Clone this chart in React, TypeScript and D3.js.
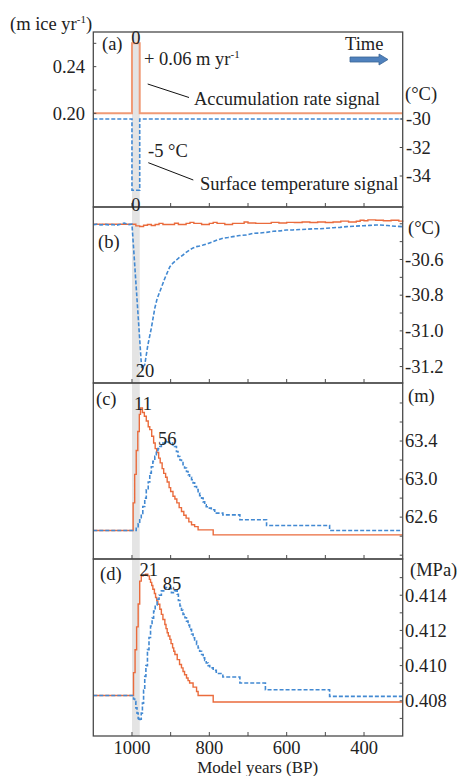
import React from 'react';
import * as d3 from 'd3';

// ---------- shared x axis ----------
const xDomain = [1100, 300];
const xTickYears = [1000, 900, 800, 700, 600, 500, 400];
const xLabelYears = [1000, 800, 600, 400];
const bandYears = [1000, 980];

// ---------- panel (a): imposed signals ----------
const aYears = [1100, 1000, 980, 300];
const aAccum = [0.2, 0.26, 0.2, 0.2];
const aTemp = [-30, -35, -30, -30];
const aLeftTicks = [0.2, 0.22, 0.24, 0.26];
const aLeftLabels = ['0.20', '0.24'];
const aRightTicks = [-30, -32, -34];

// ---------- panel (b): temperature (°C) ----------
const bBlueYears = [1100, 1090, 1080, 1070, 1060, 1050, 1040, 1030, 1020, 1015, 1010, 1000, 975, 967, 959, 950, 941, 935, 928, 921, 915, 908, 902, 894, 885, 877, 868, 860, 851, 842, 833, 825, 816, 803, 790, 778, 765, 752, 739, 722, 704, 687, 670, 652, 635, 618, 601, 583, 566, 549, 532, 514, 497, 480, 462, 445, 428, 411, 402, 385, 368, 359, 340, 320, 300];
const bBlueValues = [-30.405, -30.402, -30.407, -30.403, -30.406, -30.404, -30.408, -30.403, -30.396, -30.4, -30.405, -30.402, -31.21, -31.19, -31.08, -30.985, -30.873, -30.82, -30.78, -30.74, -30.705, -30.67, -30.64, -30.62, -30.603, -30.588, -30.575, -30.56, -30.547, -30.535, -30.528, -30.524, -30.519, -30.51, -30.5, -30.49, -30.481, -30.477, -30.472, -30.466, -30.463, -30.453, -30.452, -30.448, -30.442, -30.44, -30.435, -30.434, -30.432, -30.431, -30.428, -30.428, -30.425, -30.422, -30.42, -30.416, -30.414, -30.412, -30.411, -30.409, -30.407, -30.407, -30.41, -30.414, -30.416];
const bOrangeYears = [1100, 1000, 990, 980, 970, 960, 950, 940, 930, 920, 900, 890, 880, 860, 850, 840, 820, 800, 790, 780, 760, 740, 720, 710, 700, 680, 660, 640, 620, 600, 580, 560, 540, 520, 500, 480, 460, 440, 420, 410, 400, 390, 370, 350, 330, 310, 300];
const bOrangeValues = [-30.403, -30.403, -30.412, -30.415, -30.408, -30.404, -30.41, -30.404, -30.398, -30.404, -30.404, -30.397, -30.404, -30.398, -30.392, -30.398, -30.404, -30.398, -30.392, -30.398, -30.404, -30.398, -30.398, -30.39, -30.396, -30.398, -30.398, -30.392, -30.396, -30.392, -30.393, -30.39, -30.393, -30.39, -30.393, -30.39, -30.385, -30.39, -30.386, -30.38, -30.383, -30.378, -30.38, -30.383, -30.38, -30.385, -30.388];
const bTicks = [-31.2, -31.1, -31.0, -30.9, -30.8, -30.7, -30.6, -30.5, -30.4];
const bLabels = ['-30.6', '-30.8', '-31.0', '-31.2'];

// ---------- panel (c): depth (m) ----------
const cOrangeYears = [1100, 1000, 997, 993, 989, 985, 981, 978, 973, 968, 963, 958, 954, 949, 944, 940, 936, 931, 927, 922, 918, 913, 909, 904, 900, 894, 889, 884, 878, 872, 866, 860, 853, 846, 838, 829, 790, 300];
const cOrangeValues = [62.459, 62.459, 62.75, 63.05, 63.3, 63.5, 63.68, 63.748, 63.7, 63.66, 63.61, 63.55, 63.52, 63.45, 63.38, 63.32, 63.28, 63.22, 63.17, 63.11, 63.06, 63.02, 62.97, 62.91, 62.87, 62.82, 62.79, 62.75, 62.7, 62.66, 62.62, 62.59, 62.55, 62.52, 62.5, 62.466, 62.414, 62.414];
const cBlueYears = [1100, 993, 989, 984, 980, 976, 972, 967, 963, 958, 954, 950, 946, 941, 937, 933, 928, 924, 920, 915, 910, 905, 901, 895, 890, 885, 881, 876, 872, 868, 864, 859, 855, 851, 846, 842, 838, 833, 829, 825, 820, 816, 812, 808, 803, 795, 786, 765, 760, 721, 652, 489, 300];
const cBlueValues = [62.459, 62.459, 62.484, 62.53, 62.572, 62.64, 62.712, 62.8, 62.887, 62.97, 63.063, 63.13, 63.186, 63.24, 63.291, 63.32, 63.343, 63.365, 63.379, 63.386, 63.39, 63.385, 63.379, 63.36, 63.343, 63.29, 63.238, 63.2, 63.175, 63.15, 63.116, 63.08, 63.045, 63.02, 62.993, 62.96, 62.922, 62.89, 62.853, 62.825, 62.8, 62.76, 62.73, 62.71, 62.695, 62.677, 62.642, 62.624, 62.624, 62.572, 62.512, 62.459, 62.459];
const cTicks = [62.2, 62.4, 62.6, 62.8, 63.0, 63.2, 63.4, 63.6, 63.8];
const cLabels = ['62.6', '63.0', '63.4'];

// ---------- panel (d): pressure (MPa) ----------
const dOrangeYears = [1100, 1000, 996, 992, 988, 984, 980, 976, 971, 965, 959, 955, 952, 949, 946, 942, 939, 936, 933, 928, 924, 920, 915, 912, 909, 906, 902, 899, 895, 892, 889, 883, 877, 872, 868, 864, 859, 855, 851, 842, 833, 829, 790, 300];
const dOrangeValues = [0.4083, 0.4083, 0.4096, 0.4109, 0.4122, 0.4135, 0.4148, 0.4151, 0.41514, 0.4152, 0.4151, 0.4149, 0.41473, 0.41455, 0.41434, 0.4141, 0.41387, 0.41368, 0.41349, 0.4132, 0.41291, 0.41262, 0.41234, 0.4121, 0.41187, 0.41168, 0.41149, 0.41125, 0.41101, 0.41082, 0.41063, 0.41034, 0.41006, 0.40987, 0.40967, 0.40948, 0.4093, 0.40915, 0.40901, 0.40878, 0.40853, 0.4083, 0.40793, 0.40793];
const dBlueYears = [1100, 1000, 996, 993, 990, 987, 984, 982, 979, 976, 973, 970, 967, 964, 960, 956, 952, 948, 944, 940, 935, 930, 924, 918, 913, 908, 904, 898, 890, 883, 880, 876, 872, 868, 863, 859, 855, 851, 846, 842, 838, 833, 829, 825, 820, 816, 812, 808, 803, 799, 790, 782, 765, 721, 655, 489, 300];
const dBlueValues = [0.4083, 0.4083, 0.4081, 0.40796, 0.4076, 0.4073, 0.407, 0.40688, 0.40695, 0.4073, 0.40787, 0.4086, 0.40939, 0.41, 0.41091, 0.4116, 0.41225, 0.4127, 0.4131, 0.41345, 0.41377, 0.414, 0.41425, 0.41437, 0.41444, 0.41442, 0.41438, 0.41415, 0.41425, 0.41406, 0.4137, 0.41339, 0.41315, 0.41291, 0.41272, 0.41253, 0.4123, 0.41206, 0.4118, 0.41158, 0.4114, 0.4112, 0.411, 0.41082, 0.41063, 0.41044, 0.4103, 0.41015, 0.41, 0.40987, 0.40973, 0.40955, 0.40935, 0.40901, 0.40863, 0.40825, 0.40825];
const dTicks = [0.407, 0.408, 0.409, 0.41, 0.411, 0.412, 0.413, 0.414, 0.415];
const dLabels = ['0.408', '0.410', '0.412', '0.414'];

const ORANGE = '#ea6b3c';
const ORANGE_A = '#f09a76';
const BLUE = '#4289d2';
const FRAME = '#4a4a4a';
const FONT = '"Liberation Serif", "DejaVu Serif", serif';
const FS = 18.5;
const DASH = '4,2';

const PLOT_L = 93.3;
const PLOT_R = 402.7;

type Pt = [number, number];

export default function App() {
  const x = d3.scaleLinear().domain(xDomain).range([PLOT_L, PLOT_R]);

  const panels = [
    { top: 32, bottom: 207 },
    { top: 207, bottom: 383 },
    { top: 383, bottom: 559 },
    { top: 559, bottom: 736 },
  ];

  const yaL = d3.scaleLinear().domain([0.1197, 0.2697]).range([207, 32]);
  const yaR = d3.scaleLinear().domain([-36.175, -23.895]).range([207, 32]);
  const yb = d3.scaleLinear().domain([-31.292, -30.306]).range([383, 207]);
  const yc = d3.scaleLinear().domain([62.16, 64.01]).range([559, 383]);
  const yd = d3.scaleLinear().domain([0.406, 0.41606]).range([736, 559]);

  const mk = (y: d3.ScaleLinear<number, number>, curve: d3.CurveFactory) =>
    d3.line<Pt>().x((d) => x(d[0])).y((d) => y(d[1])).curve(curve);
  const zip = (a: number[], b: number[]) => d3.zip(a, b) as Pt[];

  const rightTicks = (y: d3.ScaleLinear<number, number>, ticks: number[], len = 3) =>
    ticks.map((t, i) => (
      <line key={'rt' + i} x1={PLOT_R - len} x2={PLOT_R} y1={y(t)} y2={y(t)} stroke={FRAME} strokeWidth={1} />
    ));
  const rightLabels = (y: d3.ScaleLinear<number, number>, labels: string[]) =>
    labels.map((l, i) => (
      <text key={'rl' + i} x={405} y={y(+l)} dy="0.34em">{l}</text>
    ));

  return (
    <svg width={459} height={776} style={{ position: 'absolute', left: 0, top: 0, background: '#fff', fontFamily: FONT, fontSize: FS }} fill="#222">
      {/* grey bands */}
      {panels.map((p, i) => (
        <rect key={'band' + i} x={x(bandYears[0])} y={p.top} width={x(bandYears[1]) - x(bandYears[0])} height={p.bottom - p.top} fill="#e4e4e4" />
      ))}

      {/* panel (a) lines */}
      <path d={mk(yaL, d3.curveStepAfter)(zip(aYears, aAccum)) || ''} fill="none" stroke={ORANGE_A} strokeWidth={2} />
      <path d={mk(yaR, d3.curveStepAfter)(zip(aYears, aTemp)) || ''} fill="none" stroke={BLUE} strokeWidth={1.6} strokeDasharray={DASH} />

      {/* panel (b) */}
      <path d={mk(yb, d3.curveStepAfter)(zip(bOrangeYears, bOrangeValues)) || ''} fill="none" stroke={ORANGE} strokeWidth={1.4} />
      <path d={mk(yb, d3.curveLinear)(zip(bBlueYears, bBlueValues)) || ''} fill="none" stroke={BLUE} strokeWidth={1.6} strokeDasharray={DASH} />

      {/* panel (c) */}
      <path d={mk(yc, d3.curveStepAfter)(zip(cOrangeYears, cOrangeValues)) || ''} fill="none" stroke={ORANGE} strokeWidth={1.4} />
      <path d={mk(yc, d3.curveStepAfter)(zip(cBlueYears, cBlueValues)) || ''} fill="none" stroke={BLUE} strokeWidth={1.6} strokeDasharray={DASH} />

      {/* panel (d) */}
      <path d={mk(yd, d3.curveStepAfter)(zip(dOrangeYears, dOrangeValues)) || ''} fill="none" stroke={ORANGE} strokeWidth={1.4} />
      <path d={mk(yd, d3.curveStepAfter)(zip(dBlueYears, dBlueValues)) || ''} fill="none" stroke={BLUE} strokeWidth={1.6} strokeDasharray={DASH} />

      {/* frames + x ticks */}
      {panels.map((p, i) => (
        <g key={'frame' + i}>
          <rect x={PLOT_L} y={p.top} width={PLOT_R - PLOT_L} height={p.bottom - p.top} fill="none" stroke={FRAME} strokeWidth={1.3} />
          {xTickYears.map((t) => (
            <line key={t} x1={x(t)} x2={x(t)} y1={p.bottom} y2={p.bottom - 4} stroke={FRAME} strokeWidth={1} />
          ))}
        </g>
      ))}

      {/* panel (a) axes */}
      {aLeftTicks.map((t, i) => (
        <line key={'alt' + i} x1={PLOT_L} x2={PLOT_L + 3} y1={yaL(t)} y2={yaL(t)} stroke={FRAME} strokeWidth={1} />
      ))}
      {aLeftLabels.map((l, i) => (
        <text key={'all' + i} x={85} y={yaL(+l)} dy="0.34em" textAnchor="end">{l}</text>
      ))}
      {rightTicks(yaR, aRightTicks)}
      {aRightTicks.map((t, i) => (
        <text key={'arl' + i} x={406} y={yaR(t)} dy="0.34em">{String(t)}</text>
      ))}
      <text x={10} y={30}>(m ice yr<tspan dy={-7} fontSize={11}>-1</tspan><tspan dy={7}>)</tspan></text>
      <text x={405} y={100}>(°C)</text>
      <text x={102} y={50}>(a)</text>
      <text x={x(990)} y={44} textAnchor="middle">0</text>
      <text x={x(990)} y={211} textAnchor="middle">0</text>
      <text x={144} y={65}>+ 0.06 m yr<tspan dy={-7} fontSize={11}>-1</tspan></text>
      <line x1={147.7} y1={84} x2={189} y2={97.5} stroke="#111" strokeWidth={1} />
      <text x={194} y={105}>Accumulation rate signal</text>
      <text x={148} y={157}>-5 °C</text>
      <line x1={148.3} y1={162.7} x2={193.3} y2={180} stroke="#111" strokeWidth={1} />
      <text x={200} y={190}>Surface temperature signal</text>
      <text x={345} y={50}>Time</text>
      <polygon points="350,57 379,57 379,54 388,59.5 379,65 379,62 350,62" fill="#4f81bd" stroke="#3a6596" strokeWidth={0.8} />

      {/* panel (b) axes */}
      {rightTicks(yb, bTicks)}
      {rightLabels(yb, bLabels)}
      <text x={408} y={234}>(°C)</text>
      <text x={98} y={248}>(b)</text>
      <text x={145} y={377} textAnchor="middle">20</text>

      {/* panel (c) axes */}
      {rightTicks(yc, cTicks)}
      {rightLabels(yc, cLabels)}
      <text x={408} y={402}>(m)</text>
      <text x={96} y={405}>(c)</text>
      <text x={143} y={410} textAnchor="middle">11</text>
      <text x={167.3} y={445} textAnchor="middle">56</text>

      {/* panel (d) axes */}
      {rightTicks(yd, dTicks)}
      {rightLabels(yd, dLabels)}
      <text x={410} y={576}>(MPa)</text>
      <text x={100} y={580}>(d)</text>
      <text x={148.7} y={576} textAnchor="middle">21</text>
      <text x={172} y={590} textAnchor="middle">85</text>

      {/* x labels */}
      {xLabelYears.map((t) => (
        <text key={'xl' + t} x={x(t)} y={753.5} textAnchor="middle">{t}</text>
      ))}
      <text x={257.7} y={773} fontSize={17} textAnchor="middle">Model years (BP)</text>
    </svg>
  );
}
